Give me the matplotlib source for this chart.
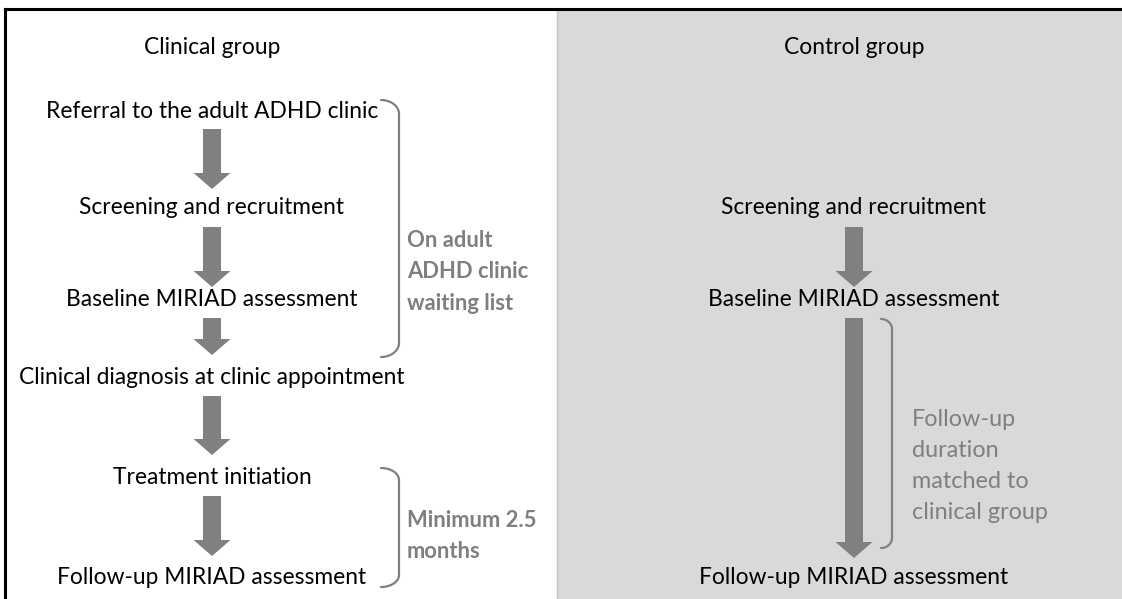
import numpy as np
import matplotlib.pyplot as plt
from matplotlib.patches import Rectangle, FancyArrow

plt.rcParams['font.family'] = ['Lato', 'DejaVu Sans']

W, H = 1122, 599

# panel titles
titles = ["Clinical group", "Control group"]

# flow steps of each group
clinical_steps = ["Referral to the adult ADHD clinic",
                  "Screening and recruitment",
                  "Baseline MIRIAD assessment",
                  "Clinical diagnosis at clinic appointment",
                  "Treatment initiation",
                  "Follow-up MIRIAD assessment"]
control_steps = ["Screening and recruitment",
                 "Baseline MIRIAD assessment",
                 "Follow-up MIRIAD assessment"]

# bracket notes
clinical_notes = ["On adult\nADHD clinic\nwaiting list", "Minimum 2.5\nmonths"]
control_note = "Follow-up\nduration\nmatched to\nclinical group"

# layout (pixels, y down)
clin_x = 212
ctrl_x = 854
clin_y = [111, 208, 299, 377, 477, 577]
ctrl_y = [208, 299, 578]
title_y = 48

arrow_grey = '#808080'
note_grey = '#7f7f7f'
fs = 16.4

fig = plt.figure(figsize=(W / 100, H / 100), dpi=100)
ax = fig.add_axes([0, 0, 1, 1])
ax.set_xlim(0, W)
ax.set_ylim(H, 0)
ax.axis('off')

# grey control panel
ax.add_patch(Rectangle((557, 9), W - 557, H - 9, facecolor='#d9d9d9',
                       edgecolor='none', zorder=0))
ax.plot([557, 557], [9, H], color='#c4c4c4', lw=1, zorder=1)
# frame (top and left)
ax.plot([5, W], [9, 9], color='black', lw=2.2, zorder=3)
ax.plot([5, 5], [9, H], color='black', lw=2.2, zorder=3)

ax.text(clin_x, title_y, titles[0], ha='center', va='center', fontsize=fs)
ax.text(ctrl_x, title_y, titles[1], ha='center', va='center', fontsize=fs)

for s, y in zip(clinical_steps, clin_y):
    ax.text(clin_x, y, s, ha='center', va='center', fontsize=fs)
for s, y in zip(control_steps, ctrl_y):
    ax.text(ctrl_x, y, s, ha='center', va='center', fontsize=fs)


def down_arrow(x, y0, y1):
    # y0 top of shaft, y1 tip
    ax.add_patch(FancyArrow(x, y0, 0, y1 - y0, width=18, head_width=37,
                            head_length=16, length_includes_head=True,
                            color=arrow_grey, lw=0, zorder=2))


clin_arrows = [(129, 189), (227, 287), (318, 355), (396, 455), (496, 556)]
for a, b in clin_arrows:
    down_arrow(clin_x, a, b)
ctrl_arrows = [(227, 287), (318, 558)]
for a, b in ctrl_arrows:
    down_arrow(ctrl_x, a, b)


def bracket(x0, x1, y0, y1, r=10):
    t = np.linspace(0, np.pi / 2, 20)
    xs = list(x0 + (x1 - x0) * np.sin(t)) + list(x0 + (x1 - x0) * np.cos(t))
    ys = list(y0 + r * (1 - np.cos(t))) + list(y1 - r + r * np.sin(t))
    ax.plot(xs, ys, color=arrow_grey, lw=1.6, zorder=2, solid_capstyle='round')


bracket(381, 399, 100, 357, r=14)
bracket(381, 399, 468, 587, r=12)
bracket(881, 892, 319, 548, r=10)

ax.text(407, 272, clinical_notes[0], ha='left', va='center', fontsize=15.8,
        fontweight='bold', color=note_grey, linespacing=1.62)
ax.text(407, 536, clinical_notes[1], ha='left', va='center', fontsize=15.8,
        fontweight='bold', color=note_grey, linespacing=1.62)
ax.text(912, 466, control_note, ha='left', va='center', fontsize=16.8,
        color=note_grey, linespacing=1.58)

fig.savefig('out.png', dpi=100)
